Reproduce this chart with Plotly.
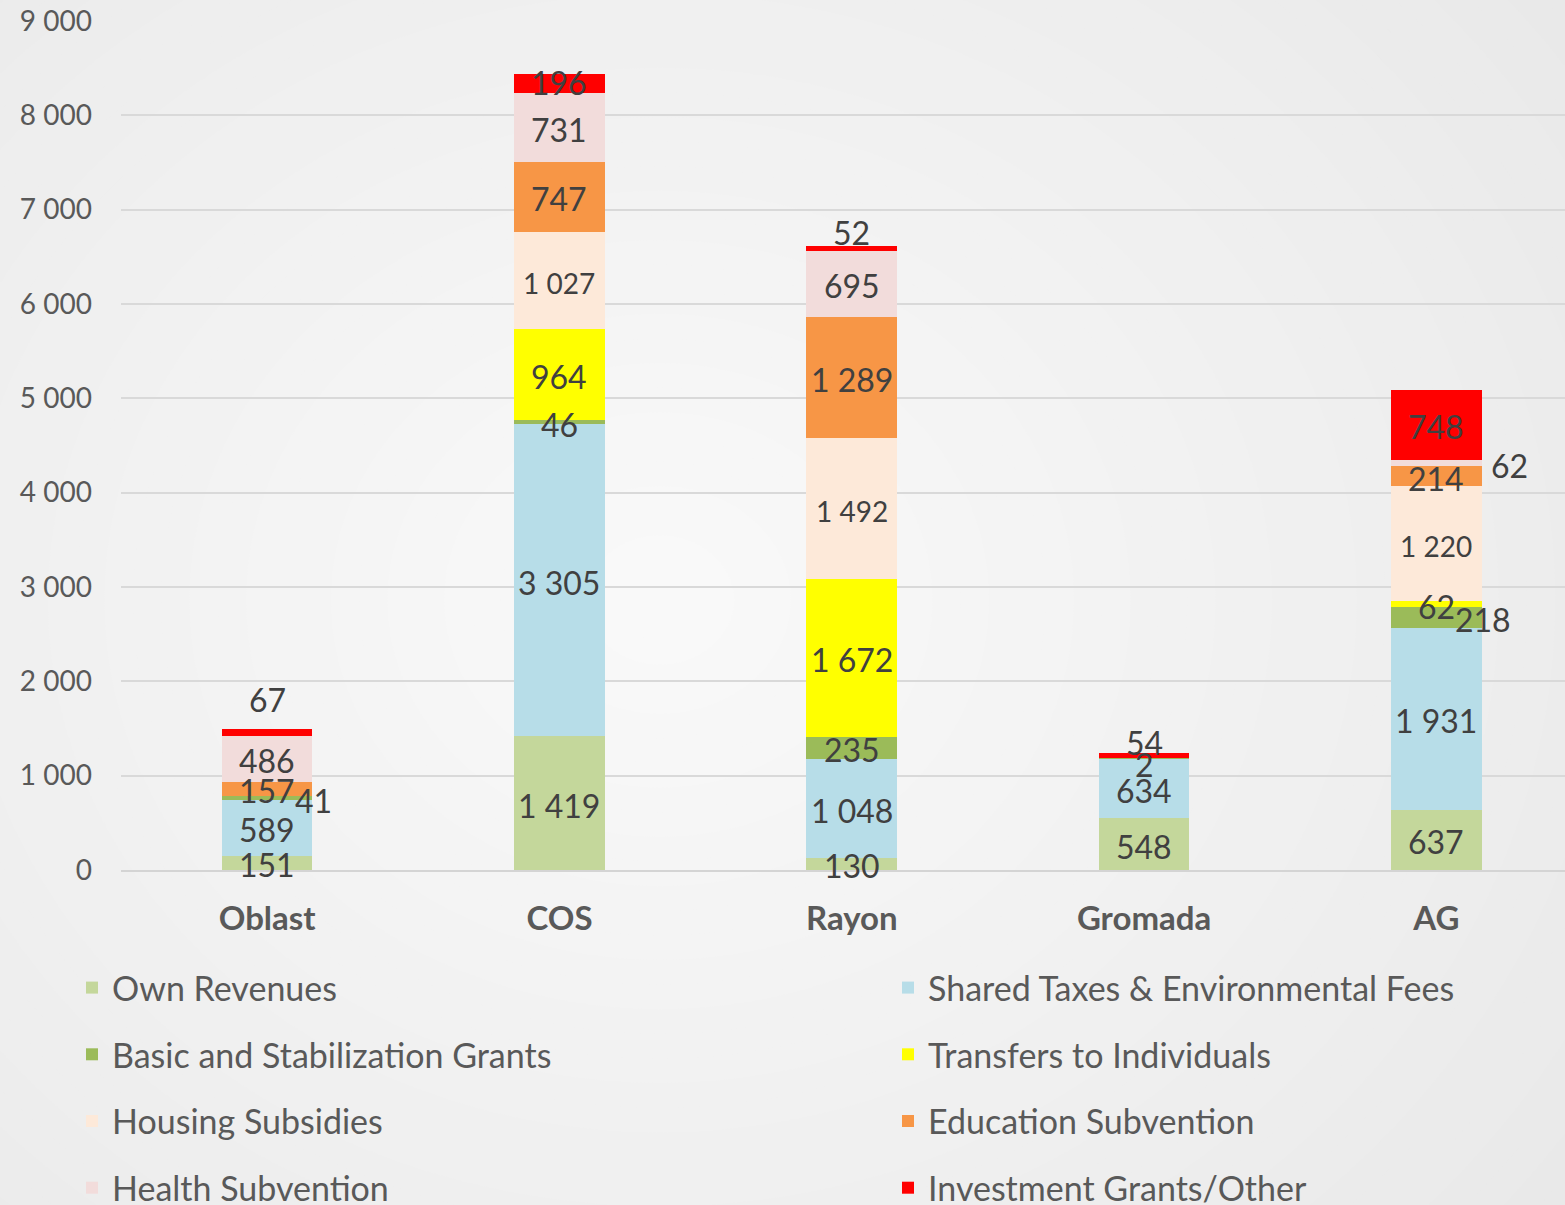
import plotly.graph_objects as go

categories = ["Oblast", "COS", "Rayon", "Gromada", "AG"]

series_names = [
    "Own Revenues",
    "Shared Taxes & Environmental Fees",
    "Basic and Stabilization Grants",
    "Transfers to Individuals",
    "Housing Subsidies",
    "Education Subvention",
    "Health Subvention",
    "Investment Grants/Other",
]

own_revenues = [151, 1419, 130, 548, 637]
shared_taxes = [589, 3305, 1048, 634, 1931]
basic_grants = [41, 46, 235, 2, 218]
transfers_individuals = [None, 964, 1672, None, 62]
housing_subsidies = [None, 1027, 1492, None, 1220]
education_subvention = [157, 747, 1289, None, 214]
health_subvention = [486, 731, 695, None, 62]
investment_grants = [67, 196, 52, 54, 748]

y_ticks = [0, 1000, 2000, 3000, 4000, 5000, 6000, 7000, 8000, 9000]

series_values = [own_revenues, shared_taxes, basic_grants, transfers_individuals,
                 housing_subsidies, education_subvention, health_subvention, investment_grants]

colors = ["#c4d79b", "#b7dde8", "#9bbb59", "#ffff00", "#fde9d9", "#f79646", "#f2dcdb", "#ff0000"]

FONT = "Lato, 'Open Sans', sans-serif"
LABEL_COLOR = "#404040"
AXIS_COLOR = "#595959"

# manual label offsets in pixels (series index, category index) -> (dx, dy)
label_offsets = {
    (2, 0): (46, 0),
    (7, 0): (0, 35),
    (7, 1): (0, 3),
    (7, 2): (0, 18),
    (2, 3): (0, -4),
    (7, 3): (0, 15),
    (2, 4): (47, 0),
    (6, 4): (73, 0),
}
small_label_series = {4}

fig = go.Figure()

# radial-ish background gradient via concentric ellipses (pixel -> paper coords)
PL, PR, PT, PB = 121, 1565, 21, 870
def px_to_paper_x(px):
    return (px - PL) / (PR - PL)
def px_to_paper_y(py):
    return (PB - py) / (PB - PT)

cx, cy = 660, 600
steps = 40
c_out = (233, 233, 233)
c_in = (249, 249, 249)
shapes = []
for i in range(steps):
    t = i / (steps - 1)
    r = 1000 * (1 - t) + 40 * t
    col = tuple(int(round(c_out[k] + (c_in[k] - c_out[k]) * t)) for k in range(3))
    shapes.append(dict(
        type="circle", xref="paper", yref="paper", layer="below",
        x0=px_to_paper_x(cx - r * 1.15), x1=px_to_paper_x(cx + r * 1.15),
        y0=px_to_paper_y(cy + r), y1=px_to_paper_y(cy - r),
        fillcolor="rgb(%d,%d,%d)" % col, line=dict(width=0),
    ))

left_col = {0, 2, 4, 6}
for si, (name, vals, col) in enumerate(zip(series_names, series_values, colors)):
    fig.add_trace(go.Bar(
        name=name, x=categories, y=vals, marker=dict(color=col, line=dict(width=0)),
        width=0.31, legend="legend" if si in left_col else "legend2",
        legendgroup="g%d" % si, hoverinfo="x+y+name",
    ))

annotations = []
for ci, cat in enumerate(categories):
    base = 0
    for si, vals in enumerate(series_values):
        v = vals[ci]
        if v is None:
            continue
        mid = base + v / 2
        dx, dy = label_offsets.get((si, ci), (0, 0))
        annotations.append(dict(
            x=cat, y=mid, xref="x", yref="y", showarrow=False,
            text=f"{v:,}".replace(",", " "),
            font=dict(family=FONT, size=28 if si in small_label_series else 32, color=LABEL_COLOR),
            xshift=dx, yshift=dy - 2,
        ))
        base += v

legend_font = dict(family=FONT, size=34, color=AXIS_COLOR)
fig.update_layout(
    barmode="stack",
    width=1565, height=1205,
    margin=dict(l=PL, r=0, t=PT, b=1205 - PB, pad=0, autoexpand=False),
    paper_bgcolor="#ebebeb",
    plot_bgcolor="rgba(0,0,0,0)",
    separators=". ",
    shapes=shapes,
    annotations=annotations,
    showlegend=True,
    legend=dict(
        x=px_to_paper_x(72), y=px_to_paper_y(959), xanchor="left", yanchor="top",
        orientation="v", traceorder="grouped", tracegroupgap=19.5,
        font=legend_font, bgcolor="rgba(0,0,0,0)",
    ),
    legend2=dict(
        x=px_to_paper_x(888), y=px_to_paper_y(959), xanchor="left", yanchor="top",
        orientation="v", traceorder="grouped", tracegroupgap=19.5,
        font=legend_font, bgcolor="rgba(0,0,0,0)",
    ),
    xaxis=dict(
        range=[-0.5, 4.44], showgrid=False, zeroline=False,
        showline=True, linecolor="#d4d4d4", linewidth=2,
        tickfont=dict(family=FONT, size=33, color=AXIS_COLOR, weight="bold"),
        ticks="", ticklabelstandoff=18,
    ),
    yaxis=dict(
        range=[0, 9000], tickvals=y_ticks, tickformat=",d",
        showgrid=True, gridcolor="#d9d9d9", gridwidth=2, zeroline=False,
        tickfont=dict(family=FONT, size=28, color=AXIS_COLOR),
        ticks="", ticklabelstandoff=28,
    ),
)

fig.write_html(
    "out.html",
    config={"displayModeBar": False},
    post_script="document.body.style.margin='0';document.body.style.overflow='hidden';",
)
